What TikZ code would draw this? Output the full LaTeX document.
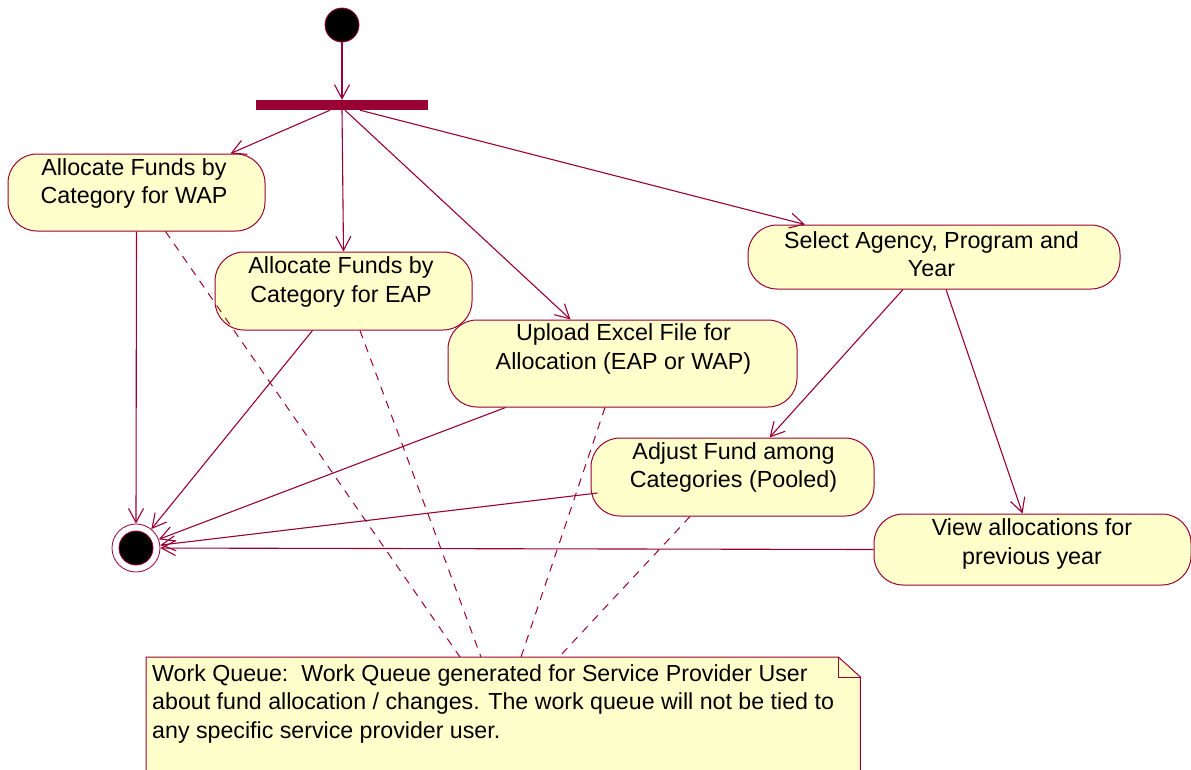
\documentclass[tikz,border=0pt]{standalone}
\usepackage{fontspec}
\setmainfont{Liberation Sans}
\usetikzlibrary{arrows.meta}
\definecolor{umlred}{RGB}{153,0,51}
\definecolor{umlfill}{RGB}{255,255,204}
\tikzset{
  actbox/.style={draw=umlred, fill=umlfill, line width=1pt, rectangle, rounded corners=29pt, inner sep=0pt},
  acttext/.style={align=center, inner sep=0pt, font=\fontsize{23.3}{28.5}\selectfont},
  flow/.style={draw=umlred, line width=1.1pt, -{Straight Barb[length=14pt,width=15pt,line width=1.1pt]}},
  anchorline/.style={draw=umlred, line width=1pt, dash pattern=on 8pt off 7pt},
}
\begin{document}
\begin{tikzpicture}[x=1pt,y=-1pt]
\useasboundingbox (0,0) rectangle (1191,769);
% start and fork
\node[circle, draw=umlred, fill=black, line width=0.8pt, minimum size=34pt, inner sep=0pt] (start) at (342,25) {};
\node[rectangle, fill=umlred, minimum width=172pt, minimum height=10pt, inner sep=0pt] (fork) at (342,105) {};
% activities
\node[actbox, minimum width=257pt, minimum height=77pt] (a1) at (136.5,192.5) {};
\node[acttext] (a1t) at (134,183.5) {Allocate Funds by\\Category for WAP};
\node[actbox, minimum width=257pt, minimum height=78pt] (a2) at (343.5,291) {};
\node[acttext] (a2t) at (341,282) {Allocate Funds by\\Category for EAP};
\node[actbox, minimum width=349pt, minimum height=87pt] (a3) at (622.5,363.5) {};
\node[acttext] (a3t) at (623.5,349) {Upload Excel File for\\Allocation (EAP or WAP)};
\node[actbox, minimum width=372pt, minimum height=64pt] (a4) at (934,257) {};
\node[acttext] (a4t) at (931.5,254) {Select Agency, Program and\\Year};
\node[actbox, minimum width=283pt, minimum height=78pt] (a5) at (732.5,477) {};
\node[acttext] (a5t) at (733.5,467.5) {Adjust Fund among\\Categories (Pooled)};
\node[actbox, minimum width=317pt, minimum height=71pt] (a6) at (1032.5,549.5) {};
\node[acttext] (a6t) at (1032,544) {View allocations for\\previous year};
% end
\node[circle, draw=umlred, fill=white, line width=0.8pt, minimum size=48pt, inner sep=0pt] (end) at (136,548) {};
\node[circle, draw=umlred, fill=black, line width=0.8pt, minimum size=34pt, inner sep=0pt] (endin) at (136,548) {};
% note
\node[rectangle, inner sep=0pt, minimum width=714pt, minimum height=140pt, anchor=north west] (note) at (146,657) {};
\draw[draw=umlred, fill=umlfill, line width=1pt] (note.south west) -- (note.north west) -- ([xshift=-22pt]note.north east) -- ([yshift=-20pt]note.north east) -- (note.south east) -- cycle;
\draw[draw=umlred, line width=1pt] ([xshift=-22pt]note.north east) -- ([xshift=-22pt,yshift=-20pt]note.north east) -- ([yshift=-20pt]note.north east);
\node[anchor=north west, align=left, inner sep=0pt, font=\fontsize{23.2}{28.5}\selectfont] (notet) at (152,664) {Work Queue:\ \ Work Queue generated for Service Provider User\\about fund allocation / changes. The work queue will not be tied to\\any specific service provider user.};
% flows
\draw[flow] (start) -- (fork);
\draw[flow] ([xshift=-12pt]fork.south) -- ([xshift=-35pt]a1.north east);
\draw[flow] (fork.south) -- (a2.north);
\draw[flow] ([xshift=3pt]fork.south) -- ([xshift=-52pt]a3.north);
\draw[flow] ([xshift=18pt]fork.south) -- ([xshift=-129pt]a4.north);
\draw[flow] (a1.south) -- (end.north);
\draw[flow] ([xshift=-31pt]a2.south) -- (end);
\draw[flow] ([xshift=-117pt]a3.south) -- (end);
\draw[flow] ([xshift=7pt,yshift=-16pt]a5.west) -- (end);
\draw[flow] (a6.west) -- (end);
\draw[flow] ([xshift=-31pt]a4.south) -- ([xshift=37pt]a5.north);
\draw[flow] ([xshift=12pt]a4.south) -- ([xshift=-10pt]a6.north);
% note anchors
\draw[anchorline] ([xshift=29pt]a1.south) -- ([xshift=314pt]note.north west);
\draw[anchorline] ([xshift=16.5pt]a2.south) -- ([xshift=335pt]note.north west);
\draw[anchorline] ([xshift=-17.5pt]a3.south) -- ([xshift=375pt]note.north west);
\draw[anchorline] ([xshift=-42.5pt]a5.south) -- ([xshift=413pt]note.north west);
\end{tikzpicture}
\end{document}
